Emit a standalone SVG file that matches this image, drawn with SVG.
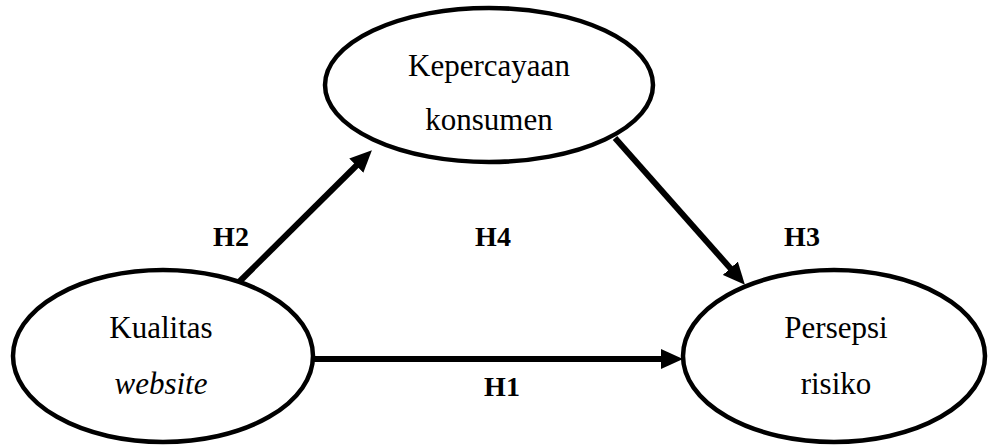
<svg xmlns="http://www.w3.org/2000/svg" width="989" height="447" viewBox="0 0 989 447">
<style>
.node{fill:#fff;stroke:#000;stroke-width:4.5}
.t{font-family:"Liberation Serif","Times New Roman",serif;font-size:31px;fill:#000;text-anchor:middle}
.i{font-style:italic}
.h{font-family:"Liberation Serif","Times New Roman",serif;font-size:28px;font-weight:bold;fill:#000;text-anchor:middle}
.c{stroke:#000;stroke-width:6;fill:none;marker-end:url(#ah)}
</style>
<defs>
<marker id="ah" markerUnits="userSpaceOnUse" markerWidth="22" markerHeight="20" viewBox="0 0 22 20" refX="1" refY="10" orient="auto">
<path d="M0,0 L22,10 L0,20 z" fill="#000"/>
</marker>
</defs>
<rect width="989" height="447" fill="#fff"/>
<g id="connectors">
<line class="c" x1="238" y1="283" x2="357" y2="165"/>
<line class="c" x1="615" y1="138" x2="731" y2="269"/>
<line class="c" x1="313" y1="359" x2="662" y2="359"/>
</g>
<g id="node-kepercayaan">
<ellipse class="node" cx="489" cy="85" rx="164" ry="77"/>
<text class="t" x="489" y="76">Kepercayaan</text>
<text class="t" x="489" y="130">konsumen</text>
</g>
<g id="node-kualitas">
<ellipse class="node" cx="163" cy="356" rx="150" ry="86"/>
<text class="t" x="161" y="338">Kualitas</text>
<text class="t i" x="161" y="394">website</text>
</g>
<g id="node-persepsi">
<ellipse class="node" cx="834" cy="356" rx="151" ry="86"/>
<text class="t" x="836" y="338">Persepsi</text>
<text class="t" x="836" y="394">risiko</text>
</g>
<g id="labels">
<text class="h" x="231" y="246">H2</text>
<text class="h" x="493" y="246">H4</text>
<text class="h" x="802" y="246">H3</text>
<text class="h" x="502" y="396">H1</text>
</g>
</svg>
